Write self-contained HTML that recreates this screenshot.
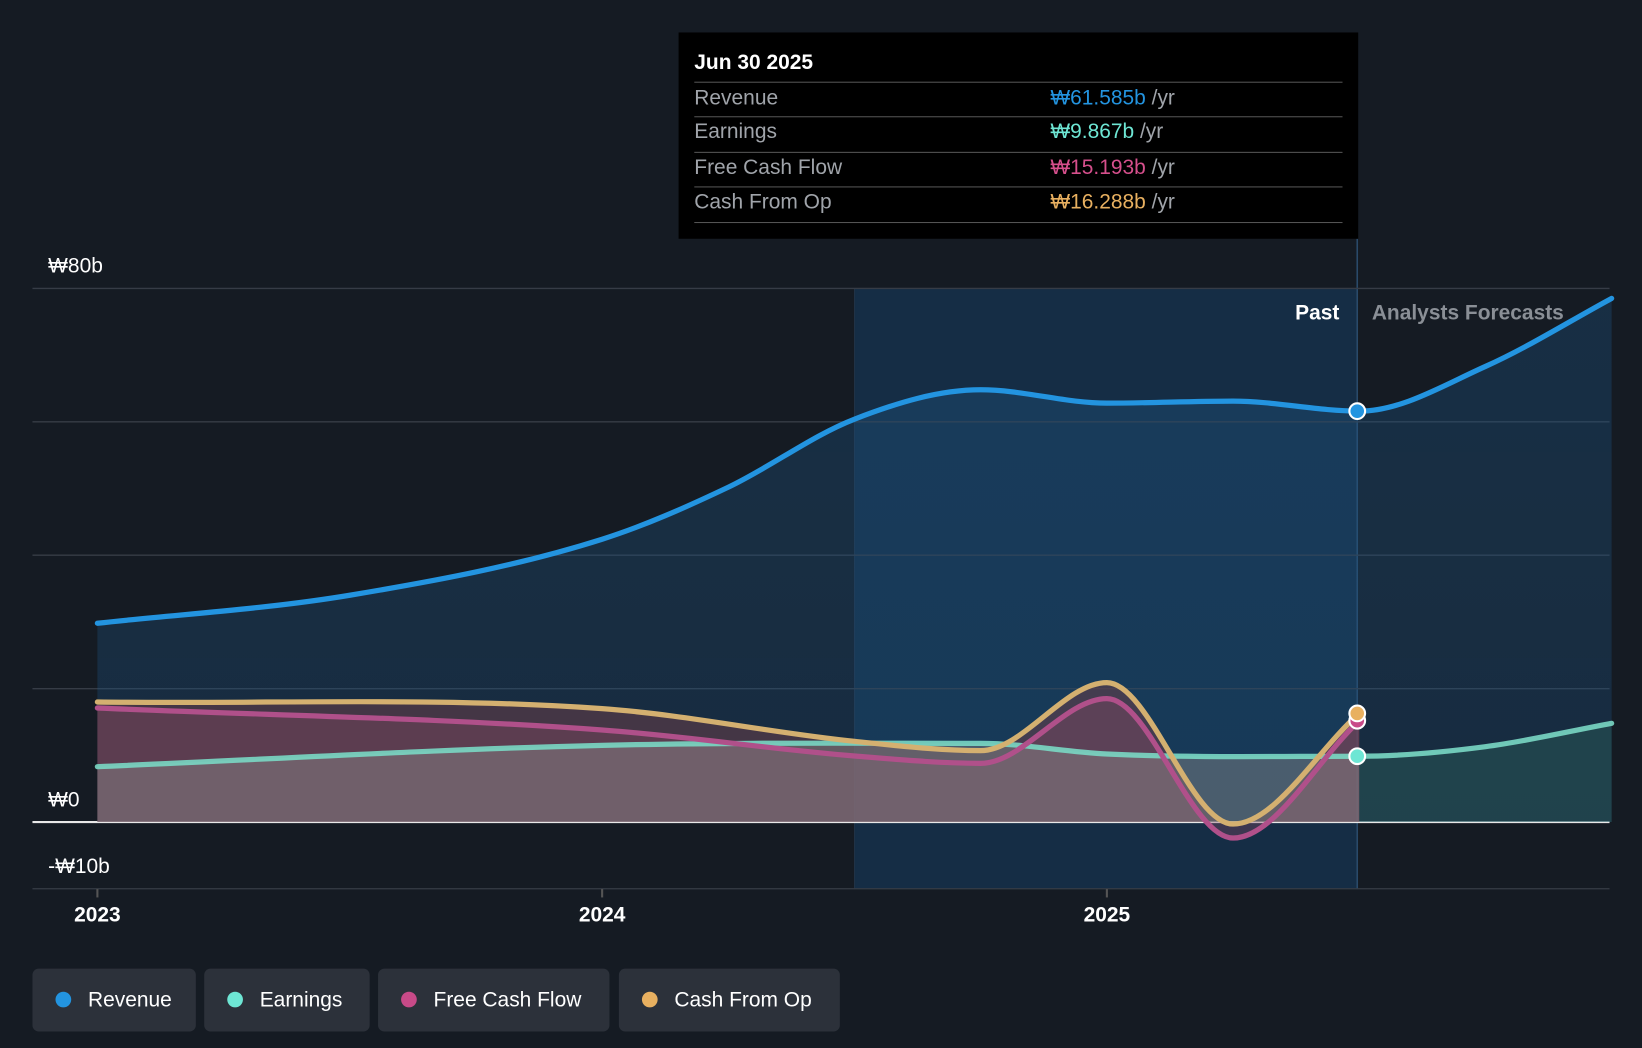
<!DOCTYPE html>
<html><head><meta charset="utf-8">
<style>
html,body{margin:0;padding:0;background:#151b23;width:1642px;height:1048px;overflow:hidden;font-family:"Liberation Sans","Noto Sans CJK KR",sans-serif;}
#wrap{position:absolute;left:0;top:0;width:1568px;height:1001px;transform:scale(1.04719);transform-origin:0 0;}
.leg{position:absolute;top:925px;height:60px;background:#2c313a;border-radius:6px;color:#fff;font-size:20px;line-height:60px;box-sizing:border-box;padding-left:53px;}
.leg i{position:absolute;left:22px;top:22px;width:15px;height:15px;border-radius:50%;}
</style></head><body>
<div id="wrap">
<svg id="chart" width="1568" height="1001" style="position:absolute;left:0;top:0">
<defs>
<linearGradient id="gRev" x1="0" y1="0" x2="0" y2="1"><stop offset="0" stop-color="#1e5584" stop-opacity="0.35"/><stop offset="1" stop-color="#1e5584" stop-opacity="0.3"/></linearGradient>
</defs>
<g id="bg"></g><g id="grid"></g><g id="areas"></g><g id="lines"></g><g id="dots"></g><g id="axis"></g>
</svg>
<div style="position:absolute;left:648px;top:31px;width:649px;height:197px;background:#000;color:#fff;">
<div style="position:absolute;left:15px;top:18px;font-size:20px;font-weight:bold">Jun 30 2025</div>
<div style="position:absolute;left:15px;right:15px;top:47px;border-top:1px solid #555"></div>
<div style="position:absolute;left:15px;top:52px;font-size:20px;color:#a0a4aa">Revenue</div>
<div style="position:absolute;left:355px;top:52px;font-size:20px;color:#a0a4aa"><span style="color:#2394e0">₩61.585b</span> /yr</div>
<div style="position:absolute;left:15px;right:15px;top:80px;border-top:1px solid #555"></div>
<div style="position:absolute;left:15px;top:84px;font-size:20px;color:#a0a4aa">Earnings</div>
<div style="position:absolute;left:355px;top:84px;font-size:20px;color:#a0a4aa"><span style="color:#6ee6d4">₩9.867b</span> /yr</div>
<div style="position:absolute;left:15px;right:15px;top:114px;border-top:1px solid #555"></div>
<div style="position:absolute;left:15px;top:118px;font-size:20px;color:#a0a4aa">Free Cash Flow</div>
<div style="position:absolute;left:355px;top:118px;font-size:20px;color:#a0a4aa"><span style="color:#d64f8c">₩15.193b</span> /yr</div>
<div style="position:absolute;left:15px;right:15px;top:147px;border-top:1px solid #555"></div>
<div style="position:absolute;left:15px;top:151px;font-size:20px;color:#a0a4aa">Cash From Op</div>
<div style="position:absolute;left:355px;top:151px;font-size:20px;color:#a0a4aa"><span style="color:#e8b060">₩16.288b</span> /yr</div>
<div style="position:absolute;left:15px;right:15px;top:181px;border-top:1px solid #555"></div>
</div>
<div class="leg" style="left:31px;width:156px"><i style="background:#2394e0"></i>Revenue</div>
<div class="leg" style="left:195px;width:158px"><i style="background:#6ee6d4"></i>Earnings</div>
<div class="leg" style="left:361px;width:221px"><i style="background:#c84a88"></i>Free Cash Flow</div>
<div class="leg" style="left:591px;width:211px"><i style="background:#e8b060"></i>Cash From Op</div>
</div>
<script>
const revDates=[2023.0,2023.5,2024.0,2024.25,2024.5,2024.75,2025.0,2025.25,2025.5,2025.75,2026.0];
const revVals=[29.8,34.0,42.4,50.2,60.4,64.8,62.8,63.1,61.6,68.3,78.5];
const earnDates=[2023.0,2024.0,2024.75,2025.0,2025.5,2025.75,2026.0];
const earnVals=[8.3,11.5,11.8,10.2,9.867,11.3,14.8];
const fcfDates=[2023.0,2024.0,2024.5,2024.75,2025.0,2025.25,2025.5];
const fcfVals=[17.1,13.8,9.9,8.8,18.5,-2.4,15.193];
const cfoDates=[2023.0,2024.0,2024.5,2024.75,2025.0,2025.25,2025.5];
const cfoVals=[18.0,17.0,12.1,10.7,20.9,-0.3,16.288];
const yTicks=[80,60,40,20,0,-10];
const yLabels=["₩80b","","","","₩0","-₩10b"];
const xTicks=[2023,2024,2025];
const NS="http://www.w3.org/2000/svg";
const X=d=>93+(d-2023)*482;
const Y=v=>785-v*6.37;
const L=31,R=1537,pastX=X(2025.496);
function el(t,a,p){const e=document.createElementNS(NS,t);for(const k in a)e.setAttribute(k,a[k]);document.getElementById(p).appendChild(e);return e;}
function path(ds,vs){const p=ds.map((d,i)=>[X(d),Y(vs[i])]);const n=p.length;const m=[];const s=[];
for(let i=0;i<n-1;i++)s.push((p[i+1][1]-p[i][1])/(p[i+1][0]-p[i][0]));
for(let i=0;i<n;i++){if(i==0)m.push(s[0]);else if(i==n-1)m.push(s[n-2]);else{if(s[i-1]*s[i]<=0)m.push(0);else m.push((s[i-1]+s[i])/2);}}
let d=`M${p[0][0]},${p[0][1]}`;for(let i=0;i<n-1;i++){const h=(p[i+1][0]-p[i][0])/3;d+=` C${p[i][0]+h},${p[i][1]+m[i]*h} ${p[i+1][0]-h},${p[i+1][1]-m[i+1]*h} ${p[i+1][0]},${p[i+1][1]}`;}return {d,p};}
let r=el('rect',{x:X(2024.5),y:276,width:pastX-X(2024.5),height:573,fill:'#153a5c',opacity:0.6},'bg');


let pl=el('line',{x1:pastX,x2:pastX,y1:228,y2:849,stroke:'#2a4a6a','stroke-width':1.5},'bg');


let hl=el('line',{x1:X(2024.5),x2:X(2024.5),y1:276,y2:849,stroke:'#203246','stroke-width':1},'bg');


yTicks.forEach((v,i)=>{const g=el('line',{x1:L,x2:R,y1:Y(v),y2:Y(v),stroke:v==0?'#e8e8e8':'#363c46','stroke-width':v==0?2:1.3},'grid');


if(yLabels[i]){const t=el('text',{x:46,y:Y(v)-15,fill:'#fff','font-size':20},'axis');t.textContent=yLabels[i];

}});
xTicks.forEach(v=>{const tk=el('line',{x1:X(v),x2:X(v),y1:849,y2:857,stroke:'#555','stroke-width':2},'axis');


const t=el('text',{x:X(v),y:880,fill:'#fff','font-size':20,'text-anchor':'middle','font-weight':'bold'},'axis');t.textContent=v;

});
let tp=el('text',{x:1279,y:305,fill:'#fff','font-size':20,'text-anchor':'end','font-weight':'bold'},'axis');tp.textContent='Past';


let tf=el('text',{x:1310,y:305,fill:'#8a8f96','font-size':20,'font-weight':'bold'},'axis');tf.textContent='Analysts Forecasts';


function area(ds,vs,fill,op,name){const {d,p}=path(ds,vs);const a=el('path',{d:d+` L${p[p.length-1][0]},${Y(0)} L${p[0][0]},${Y(0)} Z`,fill,opacity:op},'areas');

}
area(revDates,revVals,'url(#gRev)',1,'revenue-area');
area(cfoDates,cfoVals,'#6a4048',0.55,'cash-from-op-area');
area(fcfDates,fcfVals,'#8a4a66',0.35,'fcf-area');
area(earnDates.filter(d=>d<=2025.5),earnVals.filter((v,i)=>earnDates[i]<=2025.5),'#8a8a8a',0.45,'earnings-past-area');
area(earnDates.filter(d=>d>=2025.5),earnVals.filter((v,i)=>earnDates[i]>=2025.5),'#2a5a58',0.5,'earnings-forecast-area');
function line(ds,vs,col,name,op){const {d}=path(ds,vs);const l=el('path',{d,fill:'none',stroke:col,'stroke-width':5,'stroke-linecap':'round',opacity:op||1},'lines');

}
line(earnDates,earnVals,'#7ad8c4','earnings-line',0.9);
line(fcfDates,fcfVals,'#b0508a','free-cash-flow-line');
line(cfoDates,cfoVals,'#d4b070','cash-from-op-line');
line(revDates,revVals,'#2394e0','revenue-line');
[[revVals[8],'#2394e0','revenue-dot'],[earnVals[4],'#6ee6d4','earnings-dot'],[fcfVals[6],'#c84a88','fcf-dot'],[cfoVals[6],'#e8b060','cfo-dot']].forEach(a=>{const c=el('circle',{cx:X(2025.496),cy:Y(a[0]),r:7.5,fill:a[1],stroke:'#fff','stroke-width':2},'dots');

});
</script>
</body></html>
